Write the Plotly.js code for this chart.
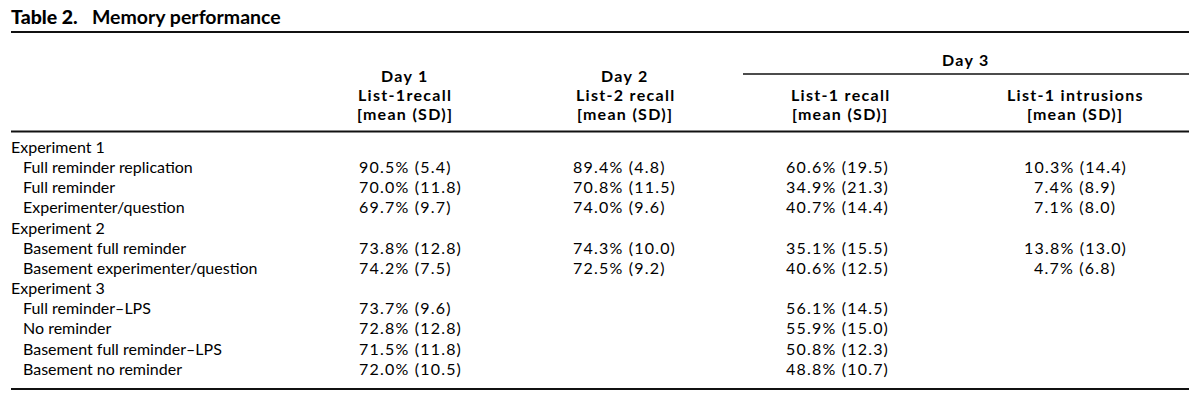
<!DOCTYPE html>
<html>
<head>
<meta charset="utf-8">
<script src="https://cdn.plot.ly/plotly-3.0.1.min.js"></script>
<style>html,body{margin:0;padding:0;background:#fff;}#chart{width:1200px;height:401px;}</style>
</head>
<body>
<div id="chart"></div>
<script>
// ---- Data ----
const tableTitle = "Table 2.";
const tableSubtitle = "Memory performance";
const groupNames = ["Experiment 1", "Experiment 2", "Experiment 3"];
const groupSizes = [3, 2, 4];
const conditions = [
  "Full reminder replication", "Full reminder", "Experimenter/question",
  "Basement full reminder", "Basement experimenter/question",
  "Full reminder\u2013LPS", "No reminder", "Basement full reminder\u2013LPS", "Basement no reminder"
];
const day1Mean = [90.5, 70.0, 69.7, 73.8, 74.2, 73.7, 72.8, 71.5, 72.0];
const day1SD   = [5.4, 11.8, 9.7, 12.8, 7.5, 9.6, 12.8, 11.8, 10.5];
const day2Mean = [89.4, 70.8, 74.0, 74.3, 72.5, null, null, null, null];
const day2SD   = [4.8, 11.5, 9.6, 10.0, 9.2, null, null, null, null];
const day3RecallMean = [60.6, 34.9, 40.7, 35.1, 40.6, 56.1, 55.9, 50.8, 48.8];
const day3RecallSD   = [19.5, 21.3, 14.4, 15.5, 12.5, 14.5, 15.0, 12.3, 10.7];
const day3IntrMean = [10.3, 7.4, 7.1, 13.8, 4.7, null, null, null, null];
const day3IntrSD   = [14.4, 8.9, 8.0, 13.0, 6.8, null, null, null, null];
const headerDays = ["Day 1", "Day 2", "Day 3"];
const colHeaders = ["List-1recall", "List-2 recall", "List-1 recall", "List-1 intrusions"];
const statLabel = "[mean (SD)]";

// ---- Layout settings (positions / styles) ----
const W = 1200, H = 401;
const FONT = "Lato, Open Sans, sans-serif";
const FS_LABEL = 16, FS_VALUE = 16, FS_HEAD = 16, FS_TITLE = 19.5;
const SPACING_VALUE = 1.2, SPACING_HEAD = 1.3;
const lineLeft = 11, lineRight = 1189;
const yTopRule = 32, yHeadRule = 131.5, yBottomRule = 389, yDay3Rule = 74;
const day3RuleLeft = 743;
const firstRowY = 146.5, rowPitch = 20.15;
const xGroup = 10, xCond = 22;
const valueCols = [
  {left: 358, head: 405, align: "left"},
  {left: 572, head: 625, align: "left"},
  {left: 785, head: 840, align: "left"},
  {left: 1075, head: 1075, align: "center"}
];
const headY = [75, 94, 113];
const day3Y = 59;

function fmt(m, s) { return (m === null) ? null : m.toFixed(1) + "% (" + s.toFixed(1) + ")"; }
const cols = [
  day1Mean.map((m, i) => fmt(m, day1SD[i])),
  day2Mean.map((m, i) => fmt(m, day2SD[i])),
  day3RecallMean.map((m, i) => fmt(m, day3RecallSD[i])),
  day3IntrMean.map((m, i) => fmt(m, day3IntrSD[i]))
];

const ann = [];
function addText(x, y, text, anchor, bold, size, spacing) {
  let t = bold ? "<b>" + text + "</b>" : text;
  if (spacing) t = "<span style=\"letter-spacing:" + spacing + "px\">" + t + "</span>";
  ann.push({
    x: x, y: y, xref: "x", yref: "y", text: t,
    showarrow: false, xanchor: anchor || "left", yanchor: "middle",
    font: {family: FONT, size: size, color: "#000"}, borderpad: 0
  });
}

// Title
addText(xGroup, 16, "<span style=\"font-weight:900\">" + tableTitle + "</span>&nbsp;&nbsp;&nbsp;" + tableSubtitle,
  "left", true, FS_TITLE);

// Headers
addText(valueCols[0].head, headY[0], headerDays[0], "center", true, FS_HEAD, SPACING_HEAD);
addText(valueCols[1].head, headY[0], headerDays[1], "center", true, FS_HEAD, SPACING_HEAD);
addText((day3RuleLeft + lineRight) / 2, day3Y, headerDays[2], "center", true, FS_HEAD, SPACING_HEAD);
colHeaders.forEach((h, c) => {
  addText(valueCols[c].head, headY[1], h, "center", true, FS_HEAD, SPACING_HEAD);
  addText(valueCols[c].head, headY[2], statLabel, "center", true, FS_HEAD, SPACING_HEAD);
});

// Body
let row = 0, ci = 0;
groupNames.forEach((g, gi) => {
  addText(xGroup, firstRowY + row * rowPitch, g, "left", false, FS_LABEL);
  row++;
  for (let k = 0; k < groupSizes[gi]; k++) {
    const y = firstRowY + row * rowPitch;
    addText(xCond, y, conditions[ci], "left", false, FS_LABEL);
    cols.forEach((col, c) => {
      if (col[ci] !== null) {
        const vc = valueCols[c];
        addText(vc.align === "left" ? vc.left : vc.head, y, col[ci], vc.align, false, FS_VALUE, SPACING_VALUE);
      }
    });
    row++; ci++;
  }
});

// Rules
const rule = (x0, x1, y, w) => ({type: "line", xref: "x", yref: "y", x0: x0, x1: x1, y0: y, y1: y,
  line: {color: "#111", width: w}});
const shapes = [
  rule(lineLeft, lineRight, yTopRule, 1.8),
  rule(day3RuleLeft, lineRight, yDay3Rule, 1.5),
  rule(lineLeft, lineRight, yHeadRule, 1.8),
  rule(lineLeft, lineRight, yBottomRule, 1.8)
];

const layout = {
  width: W, height: H,
  margin: {l: 0, r: 0, t: 0, b: 0},
  paper_bgcolor: "#fff", plot_bgcolor: "#fff",
  xaxis: {range: [0, W], visible: false, fixedrange: true},
  yaxis: {range: [H, 0], visible: false, fixedrange: true},
  showlegend: false,
  annotations: ann,
  shapes: shapes
};
Plotly.newPlot("chart", [{x: [], y: [], type: "scatter"}], layout, {displayModeBar: false, staticPlot: true});
</script>
</body>
</html>
